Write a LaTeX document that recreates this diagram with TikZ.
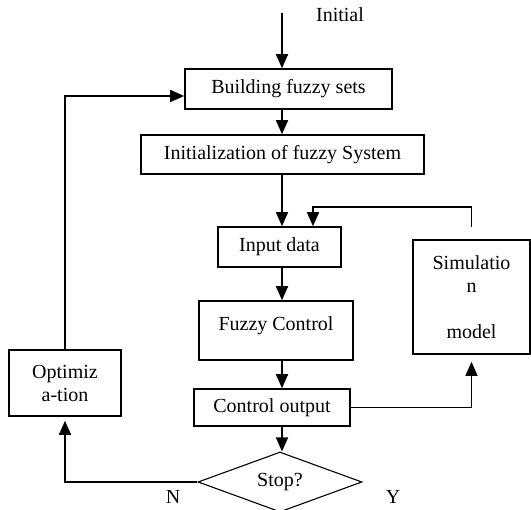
\documentclass[tikz,border=0pt]{standalone}
\usepackage{fontspec}
\setmainfont{Liberation Serif}
\usetikzlibrary{arrows.meta,shapes.geometric}
\tikzset{
  box/.style={draw, line width=1.6pt, inner sep=0pt, align=center,
              font=\fontsize{20}{23}\selectfont},
  lbl/.style={inner sep=0pt, font=\fontsize{20}{23}\selectfont},
  flow/.style={line width=1.6pt, -{Triangle[width=12pt,length=14pt]}},
}

\begin{document}
\begin{tikzpicture}[x=1pt, y=-1pt]
  \useasboundingbox (0,0) rectangle (531,510);
  \coordinate (start) at (282,13);
  \node[lbl] (initial) at (340,15) {Initial};
  \node[box, minimum width=207pt, minimum height=40pt] (build) at (288.5,89) {Building fuzzy sets};
  \node[box, minimum width=283pt, minimum height=39pt] (init) at (282.5,154.5) {Initialization of fuzzy System};
  \node[box, minimum width=123pt, minimum height=40pt] (input) at (279.5,247) {Input data};
  \node[box, minimum width=154pt, minimum height=59pt, text height=14pt, text depth=14pt] (fuzzy) at (276,330.5) {Fuzzy Control};
  \node[box, minimum width=156pt, minimum height=37pt] (ctrl) at (272,407.5) {Control output};
  \node[box, minimum width=117pt, minimum height=114pt] (sim) at (471.5,297) {Simulatio\\ n\\[23pt] model};
  \node[box, minimum width=112pt, minimum height=66pt] (opt) at (65,383) {Optimiz\\ a-tion};
  \node[draw, diamond, aspect=2.73, minimum width=164pt, minimum height=60pt, line width=1.1pt,
        inner sep=0pt, font=\fontsize{20}{23}\selectfont] (stop) at (280,482) {Stop?};
  \node[lbl] (no) at (173,497) {N};
  \node[lbl] (yes) at (393,497) {Y};

  \draw[flow] (start) -- (start |- build.north);
  \draw[flow] (build.south -| start) -- (init.north -| start);
  \draw[flow] (init.south -| start) -- (input.north -| start);
  \draw[flow] (input.south -| start) -- (fuzzy.north -| start);
  \draw[flow] (fuzzy.south -| start) -- (ctrl.north -| start);
  \draw[flow] (ctrl.south -| start) -- (stop.north -| start);
  \draw[flow, shorten <=12pt] (sim.north) -- ++(0,-32) -| ([xshift=33.5pt]input.north);
  \draw[flow, line width=1.2pt, shorten >=7pt] (ctrl.east) -| (sim.south);
  \draw[flow, shorten >=4pt] (stop.west) -| (opt.south);
  \draw[flow] (opt.north) |- ([yshift=-7pt]build.west);
\end{tikzpicture}
\end{document}
